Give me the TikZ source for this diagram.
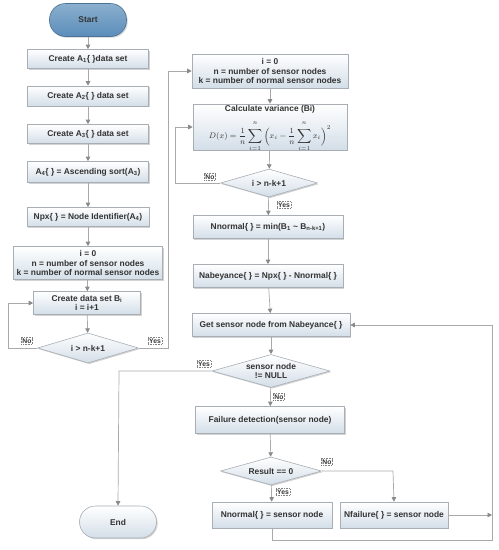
\documentclass[tikz,border=0pt]{standalone}
\usepackage{fontspec}
\setmainfont{Liberation Sans}
\usetikzlibrary{shapes.geometric,arrows.meta,shadows}
\definecolor{boxborder}{HTML}{A8AEB4}
\definecolor{boxbot}{HTML}{D3DEE8}
\definecolor{linec}{HTML}{A9A9A9}
\definecolor{arrc}{HTML}{8A8A8A}
\definecolor{startc}{HTML}{5A8DB9}
\definecolor{txt}{HTML}{333333}
\newcommand{\upn}{n\rule[-2.5pt]{0pt}{0pt}}
\begin{document}
\begin{tikzpicture}[x=1pt,y=-1pt,
  base/.style={draw=boxborder, line width=0.6pt, top color=white, bottom color=boxbot,
    drop shadow={shadow xshift=1.2pt, shadow yshift=-1.2pt, opacity=0.35},
    font=\fontsize{8.4}{9.6}\selectfont\bfseries, text=txt, align=center, inner sep=1pt},
  box/.style={base, rectangle},
  dia/.style={base, diamond, shape aspect=#1, inner sep=0pt},
  term/.style={base, rectangle, rounded corners=16pt},
  line/.style={draw=linec, line width=0.7pt},
  arr/.style={line, -{Triangle[width=4.5pt,length=4.5pt,color=arrc]}},
  yn/.style={draw=gray, dash pattern=on 0.8pt off 0.8pt, line width=0.4pt, fill=white,
    font=\fontsize{6.8}{7.5}\selectfont\bfseries, text=txt, inner sep=1pt}
]
\useasboundingbox (0,0) rectangle (499,550);
% left column
\node[term, top color=startc!70!white, bottom color=startc, draw=startc!80!black, minimum width=77pt, minimum height=33pt] (start) at (88,20) {Start};
\node[box, minimum width=121pt, minimum height=19pt] (a1) at (88,59) {Create A\textsubscript{1}\{ \}data set};
\node[box, minimum width=121pt, minimum height=20pt] (a2) at (88,96) {Create A\textsubscript{2}\{ \} data set};
\node[box, minimum width=121pt, minimum height=19pt] (a3) at (88,134) {Create A\textsubscript{3}\{ \} data set};
\node[box, minimum width=121pt, minimum height=21pt] (a4) at (88,172) {A\textsubscript{4}\{ \} = Ascending sort(A\textsubscript{3})};
\node[box, minimum width=122pt, minimum height=19pt] (npx) at (88,217) {Npx\{ \} = Node Identifier(A\textsubscript{4})};
\node[box, minimum width=149pt, minimum height=33pt, inner sep=0pt] (init) at (88,263) {i = 0\\n = number of sensor nodes\\k = number of normal sensor nodes};
\node[box, minimum width=107pt, minimum height=23pt] (cb) at (87,303) {Create data set B\textsubscript{i}\\i = i+1};
\node[dia=3.37, minimum width=101pt, minimum height=30pt] (d1) at (88,348) {i > n-k+1};
% right column
\node[box, minimum width=156pt, minimum height=34pt, inner sep=0pt] (init2) at (270,71) {i = 0\\n = number of sensor nodes\\k = number of normal sensor nodes};
\node[box, minimum width=154pt, minimum height=46pt] (var) at (270,127) {};
\node[font=\fontsize{8.4}{9.6}\selectfont\bfseries, text=txt, inner sep=0.5pt] (vart) at (270,109.5) {Calculate variance (Bi)};
\node[text=txt, font=\fontsize{8}{9.5}\selectfont, inner sep=0pt] (varf) at (270,136.5) {$\displaystyle D(x)=\frac{1}{n}\sum_{i=1}^{\upn}\Big(x_i-\frac{1}{n}\sum_{i=1}^{\upn}x_i\Big)^2$};
\node[dia=3.46, minimum width=97pt, minimum height=28pt] (d2) at (269,183) {i > n-k+1};
\node[box, minimum width=150pt, minimum height=23pt] (nmin) at (268,227) {Nnormal\{ \} = min(B\textsubscript{1} \textasciitilde{} B\textsubscript{n-k+1})};
\node[box, minimum width=150pt, minimum height=23pt] (nabe) at (268,276) {Nabeyance\{ \} = Npx\{ \} - Nnormal\{ \}};
\node[box, minimum width=158pt, minimum height=23pt] (get) at (271,325) {Get sensor node from Nabeyance\{ \}};
\node[dia=3.58, minimum width=118pt, minimum height=33pt] (d3) at (271,371) {sensor node\\!= NULL};
\node[box, minimum width=149pt, minimum height=27pt] (fail) at (270,420) {Failure detection(sensor node)};
\node[dia=3.6, minimum width=101pt, minimum height=28pt] (d4) at (271,471) {Result == 0};
\node[box, minimum width=120pt, minimum height=26pt] (nnorm) at (272,515) {Nnormal\{ \} = sensor node};
\node[box, minimum width=108pt, minimum height=26pt] (nfail) at (394,515) {Nfailure\{ \} = sensor node};
\node[term, minimum width=77pt, minimum height=32pt] (end) at (118,522) {End};
% coordinates
\coordinate (l1) at (8,348);
\coordinate (l2) at (8,303);
\coordinate (y1) at (168,348);
\coordinate (y2) at (168,71);
\coordinate (n1) at (175,183);
\coordinate (n2) at (175,127);
\coordinate (e1) at (119,371);
\coordinate (f1) at (393,471);
\coordinate (r1) at (492,515);
\coordinate (b1) at (272,540);
\coordinate (b2) at (492,540);
\coordinate (b3) at (492,325);
% connectors
\draw[arr] (start) -- (a1);
\draw[arr] (a1) -- (a2);
\draw[arr] (a2) -- (a3);
\draw[arr] (a3) -- (a4);
\draw[arr] (a4) -- (npx);
\draw[arr] (npx) -- (init);
\draw[arr] (init) -- (cb);
\draw[arr] (cb) -- (d1);
\draw[arr] (d1.west) -- (l1) -- (l2) -- (cb.west);
\draw[arr] (d1.east) -- (y1) -- (y2) -- (init2.west);
\draw[arr] (init2) -- (var);
\draw[arr] (var) -- (d2);
\draw[arr] (d2.west) -- (n1) -- (n2) -- (var.west);
\draw[arr] (d2) -- (nmin);
\draw[arr] (nmin) -- (nabe);
\draw[arr] (nabe) -- (get);
\draw[arr] (get) -- (d3);
\draw[arr] (d3.west) -- (e1) -- (end.north);
\draw[arr] (d3) -- (fail);
\draw[arr] (fail) -- (d4);
\draw[arr] (d4.east) -- (f1) -- (nfail.north);
\draw[arr] (d4) -- (nnorm);
\draw[arr] (nfail.east) -- (r1);
\draw[arr] (nnorm.south) -- (b1) -- (b2) -- (b3) -- (get.east);
% labels
\node[yn] (lno1) at (27,341) {No};
\node[yn] (lyes1) at (155,341) {Yes};
\node[yn] (lno2) at (210,177) {No};
\node[yn] (lyes2) at (284,205) {Yes};
\node[yn] (lyes3) at (204,364) {Yes};
\node[yn] (lno3) at (279,397) {No};
\node[yn] (lno4) at (327,462) {No};
\node[yn] (lyes4) at (283,492) {Yes};
\end{tikzpicture}
\end{document}
